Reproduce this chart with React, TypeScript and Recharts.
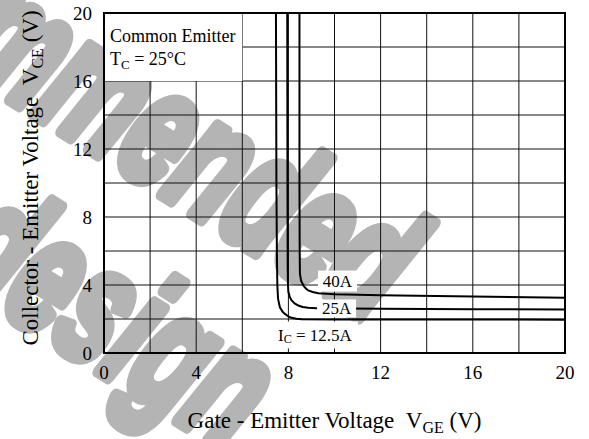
import React from 'react';
import {
  LineChart,
  Line,
  XAxis,
  YAxis,
  CartesianGrid,
  ReferenceArea,
  ReferenceDot,
} from 'recharts';

// Collector-emitter saturation curves vs gate-emitter voltage (Tc = 25°C)
const curve12_5A = [
  { vge: 7.46, vce: 20 },
  { vge: 7.48, vce: 10 },
  { vge: 7.5, vce: 6 },
  { vge: 7.52, vce: 4 },
  { vge: 7.55, vce: 3.2 },
  { vge: 7.63, vce: 2.69 },
  { vge: 7.75, vce: 2.42 },
  { vge: 7.85, vce: 2.3 },
  { vge: 8.0, vce: 2.15 },
  { vge: 8.14, vce: 2.07 },
  { vge: 8.35, vce: 2.01 },
  { vge: 8.58, vce: 1.98 },
  { vge: 10, vce: 1.97 },
  { vge: 14, vce: 1.97 },
  { vge: 20, vce: 1.96 },
];

const curve25A = [
  { vge: 7.95, vce: 20 },
  { vge: 7.96, vce: 10 },
  { vge: 7.97, vce: 5 },
  { vge: 7.98, vce: 4 },
  { vge: 8.0, vce: 3.58 },
  { vge: 8.06, vce: 3.3 },
  { vge: 8.14, vce: 3.09 },
  { vge: 8.27, vce: 2.92 },
  { vge: 8.43, vce: 2.79 },
  { vge: 8.62, vce: 2.71 },
  { vge: 8.86, vce: 2.66 },
  { vge: 9.23, vce: 2.63 },
  { vge: 12, vce: 2.6 },
  { vge: 16, vce: 2.58 },
  { vge: 20, vce: 2.56 },
];

const curve40A = [
  { vge: 8.48, vce: 20 },
  { vge: 8.48, vce: 10 },
  { vge: 8.49, vce: 6 },
  { vge: 8.5, vce: 4.66 },
  { vge: 8.55, vce: 4.25 },
  { vge: 8.65, vce: 3.97 },
  { vge: 8.75, vce: 3.8 },
  { vge: 8.86, vce: 3.68 },
  { vge: 9.05, vce: 3.59 },
  { vge: 9.3, vce: 3.52 },
  { vge: 10, vce: 3.46 },
  { vge: 12, vce: 3.4 },
  { vge: 16, vce: 3.32 },
  { vge: 20, vce: 3.25 },
];

const xTicks = [0, 4, 8, 12, 16, 20];
const yTicks = [0, 4, 8, 12, 16, 20];
const gridValues = [0, 2, 4, 6, 8, 10, 12, 14, 16, 18, 20];

const SERIF = '"Liberation Serif", "Times New Roman", serif';
const WIDTH = 589;
const HEIGHT = 439;

type BoxLabelProps = {
  cx?: number;
  cy?: number;
  w: number;
  h: number;
  children: React.ReactNode;
};

// White-backed annotation text centred on a data point
const BoxLabel = ({ cx = 0, cy = 0, w, h, children }: BoxLabelProps) => (
  <g>
    <rect x={cx - w / 2} y={cy - h / 2} width={w} height={h} fill="#fff" />
    <text
      x={cx}
      y={cy}
      textAnchor="middle"
      dominantBaseline="central"
      fontFamily={SERIF}
      fontSize={17}
      fill="#000"
    >
      {children}
    </text>
  </g>
);

const XTitle = (props: any) => {
  const vb = props.viewBox || { x: 0, y: 0, width: 0, height: 0 };
  return (
    <text
      x={vb.x + vb.width / 2}
      y={vb.y + 75}
      textAnchor="middle"
      fontFamily={SERIF}
      fontSize={23}
      fill="#000"
    >
      <tspan>{'Gate - Emitter Voltage\u00a0\u00a0V'}</tspan>
      <tspan fontSize={16} dy={5}>GE</tspan>
      <tspan dy={-5}>{' (V)'}</tspan>
    </text>
  );
};

const YTitle = (props: any) => {
  const vb = props.viewBox || { x: 0, y: 0, width: 0, height: 0 };
  const cx = 38;
  const cy = vb.y + vb.height / 2 - 5;
  return (
    <text
      transform={`translate(${cx},${cy}) rotate(-90)`}
      x={0}
      y={0}
      textAnchor="middle"
      fontFamily={SERIF}
      fontSize={23}
      fill="#000"
    >
      <tspan>{'Collector - Emitter Voltage\u00a0\u00a0V'}</tspan>
      <tspan fontSize={16} dy={5}>CE</tspan>
      <tspan dy={-5}>{' (V)'}</tspan>
    </text>
  );
};

const ConditionText = (props: any) => {
  const vb = props.viewBox || { x: 0, y: 0 };
  return (
    <text fontFamily={SERIF} fontSize={18} fill="#000">
      <tspan x={vb.x + 6} y={vb.y + 29}>Common Emitter</tspan>
      <tspan x={vb.x + 6} y={vb.y + 52}>T</tspan>
      <tspan fontSize={13} dy={4}>C</tspan>
      <tspan dy={-4}>{' = 25\u00b0C'}</tspan>
    </text>
  );
};

// Gray diagonal stamp lettering behind the chart
const Stamp = () => (
  <svg
    width={WIDTH}
    height={HEIGHT}
    style={{ position: 'absolute', left: 0, top: 0 }}
  >
    <g
      fontFamily='"Liberation Sans", Arial, sans-serif'
      fontWeight={700}
      fontStyle="italic"
      fontSize={110}
      fill="#b4b4b4"
      stroke="#b4b4b4"
      strokeWidth={9}
      strokeLinejoin="round"
    >
      <text
        transform="translate(394,288) rotate(32) scale(0.95,1.5)"
        y={29}
        textAnchor="end"
      >
        Not recommended
      </text>
      <text
        transform="translate(252,416) rotate(32) scale(0.95,1.5)"
        y={29}
        textAnchor="end"
      >
        for new design
      </text>
    </g>
  </svg>
);

export default function App() {
  return (
    <div
      style={{
        position: 'absolute',
        left: 0,
        top: 0,
        width: WIDTH,
        height: HEIGHT,
        background: '#fff',
      }}
    >
      <Stamp />
      <div style={{ position: 'absolute', left: 0, top: 0 }}>
        <LineChart
          width={WIDTH}
          height={HEIGHT}
          margin={{ top: 13, right: 24, bottom: 0, left: 0 }}
        >
          <CartesianGrid
            stroke="#111"
            strokeWidth={1}
            verticalValues={gridValues}
            horizontalValues={gridValues}
          />
          <XAxis
            type="number"
            dataKey="vge"
            domain={[0, 20]}
            ticks={xTicks}
            allowDataOverflow
            axisLine={false}
            tickLine={false}
            tickSize={6}
            tickMargin={7}
            height={86}
            tick={{ fontFamily: SERIF, fontSize: 19, fill: '#000' }}
            label={{ content: XTitle }}
          />
          <YAxis
            type="number"
            dataKey="vce"
            domain={[0, 20]}
            ticks={yTicks}
            allowDataOverflow
            axisLine={false}
            tickLine={false}
            tickSize={6}
            tickMargin={6}
            width={104}
            tick={{ fontFamily: SERIF, fontSize: 19, fill: '#000' }}
            label={{ content: YTitle }}
          />
          <ReferenceArea
            x1={0}
            x2={6}
            y1={16}
            y2={20}
            fill="#fff"
            fillOpacity={1}
            stroke="none"
            label={{ content: ConditionText }}
          />
          <Line
            data={curve12_5A}
            dataKey="vce"
            type="linear"
            stroke="#000"
            strokeWidth={2}
            dot={false}
            isAnimationActive={false}
          />
          <Line
            data={curve25A}
            dataKey="vce"
            type="linear"
            stroke="#000"
            strokeWidth={2}
            dot={false}
            isAnimationActive={false}
          />
          <Line
            data={curve40A}
            dataKey="vce"
            type="linear"
            stroke="#000"
            strokeWidth={2}
            dot={false}
            isAnimationActive={false}
          />
          <ReferenceDot
            x={10.13}
            y={4.23}
            ifOverflow="visible"
            shape={(p: any) => (
              <BoxLabel cx={p.cx} cy={p.cy} w={39} h={21}>
                40A
              </BoxLabel>
            )}
          />
          <ReferenceDot
            x={10.09}
            y={2.62}
            ifOverflow="visible"
            shape={(p: any) => (
              <BoxLabel cx={p.cx} cy={p.cy} w={39} h={18}>
                25A
              </BoxLabel>
            )}
          />
          <ReferenceDot
            x={9.15}
            y={1.06}
            ifOverflow="visible"
            shape={(p: any) => (
              <BoxLabel cx={p.cx} cy={p.cy} w={86} h={27}>
                <tspan>I</tspan>
                <tspan fontSize={12} dy={4}>C</tspan>
                <tspan dy={-4}>{' = 12.5A'}</tspan>
              </BoxLabel>
            )}
          />
          <ReferenceArea
            x1={0}
            x2={20}
            y1={0}
            y2={20}
            fill="none"
            stroke="#000"
            strokeWidth={2}
            ifOverflow="visible"
          />
        </LineChart>
      </div>
    </div>
  );
}
